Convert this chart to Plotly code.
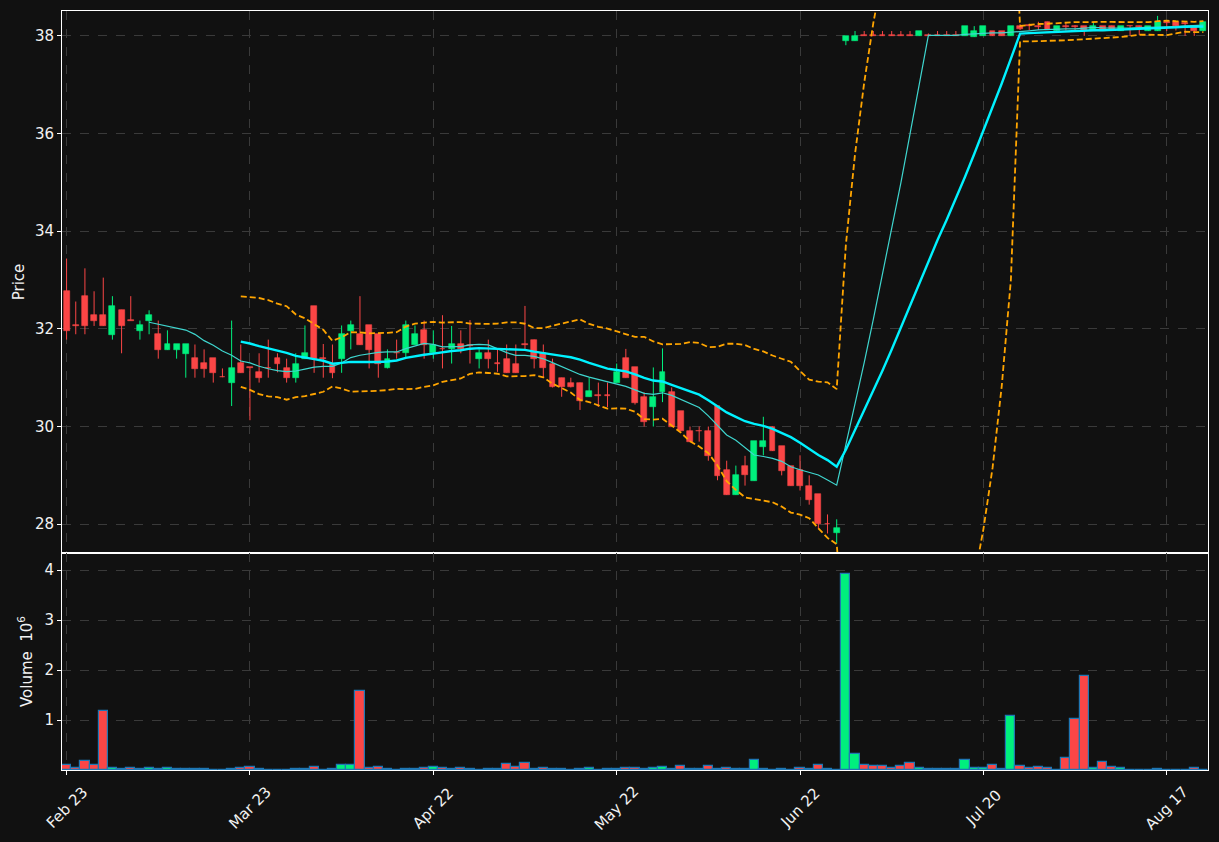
import numpy as np
import pandas as pd
import plotly.graph_objects as go

# ---------------- data ----------------
tick_positions = [0, 20, 40, 60, 80, 100, 120]
tick_labels = ["Feb 23", "Mar 23", "Apr 22", "May 22", "Jun 22", "Jul 20", "Aug 17"]

opens = [
    32.77, 32.07, 32.67, 32.28, 32.28, 31.88, 32.39, 32.18, 31.96, 32.16,
    31.89, 31.57, 31.57, 31.49, 31.40, 31.30, 31.40, 31.02, 30.90, 31.30,
    31.21, 31.11, 31.20, 31.40, 31.19, 31.00, 31.39, 32.47, 31.40, 31.29,
    31.38, 31.96, 31.89, 32.08, 31.89, 31.19, 31.51, 31.50, 31.68, 31.97,
    31.50, 31.59, 31.58, 31.69, 31.66, 31.39, 31.50, 31.30, 31.39, 31.29,
    31.69, 31.78, 31.50, 31.29, 31.00, 30.90, 30.90, 30.61, 30.64, 30.64,
    30.90, 31.40, 31.22, 30.60, 30.40, 30.70, 30.70, 30.31, 29.90, 29.91,
    29.90, 30.42, 29.11, 28.60, 29.20, 28.89, 29.58, 30.00, 29.60, 29.19,
    29.11, 28.79, 28.61, 28.01, 27.81, 37.90, 37.90, 38.00, 38.00, 38.00,
    38.00, 38.00, 38.00, 38.00, 38.01, 38.00, 38.00, 38.00, 38.00, 37.98,
    38.00, 38.10, 38.10, 38.00, 38.20, 38.22, 38.21, 38.28, 38.10, 38.21,
    38.20, 38.20, 38.11, 38.20, 38.20, 38.11, 38.21, 38.20, 38.11, 38.11,
    38.29, 38.28, 38.26, 38.20, 38.11,
]
highs = [
    33.44, 32.56, 33.24, 32.77, 33.05, 32.67, 32.39, 32.67, 32.17, 32.38,
    32.17, 31.97, 31.69, 31.69, 31.68, 31.58, 31.40, 31.19, 32.17, 31.68,
    31.21, 31.50, 31.78, 31.50, 31.39, 31.50, 32.07, 32.47, 31.69, 31.68,
    32.07, 32.17, 32.67, 32.08, 31.89, 31.58, 31.78, 32.17, 32.07, 32.17,
    31.97, 32.28, 32.06, 31.97, 32.18, 31.58, 31.78, 31.58, 31.68, 31.68,
    32.47, 31.78, 31.68, 31.39, 31.00, 31.00, 30.90, 31.00, 30.90, 30.90,
    31.29, 31.59, 31.22, 30.70, 31.21, 31.60, 30.80, 30.31, 30.00, 30.00,
    30.00, 30.42, 29.30, 29.20, 29.40, 29.70, 30.20, 30.00, 29.60, 29.19,
    29.41, 29.00, 28.61, 28.20, 28.10, 38.00, 38.10, 38.10, 38.10, 38.10,
    38.10, 38.10, 38.10, 38.10, 38.05, 38.10, 38.10, 38.10, 38.20, 38.20,
    38.20, 38.10, 38.10, 38.20, 38.24, 38.25, 38.29, 38.29, 38.20, 38.26,
    38.22, 38.20, 38.29, 38.20, 38.21, 38.20, 38.21, 38.21, 38.20, 38.41,
    38.30, 38.29, 38.29, 38.21, 38.29,
]
lows = [
    31.78, 31.89, 31.89, 32.06, 32.06, 31.78, 31.50, 32.17, 31.78, 31.89,
    31.39, 31.57, 31.39, 31.00, 31.00, 31.00, 30.90, 31.01, 30.42, 31.10,
    30.13, 30.90, 31.00, 31.11, 30.90, 30.90, 31.39, 31.10, 31.00, 30.99,
    31.10, 31.58, 31.67, 31.19, 31.00, 31.19, 31.39, 31.39, 31.68, 31.39,
    31.39, 31.19, 31.29, 31.50, 31.29, 31.19, 31.19, 31.12, 31.10, 31.10,
    31.58, 31.19, 31.00, 30.80, 30.61, 30.80, 30.34, 30.61, 30.40, 30.40,
    30.90, 31.00, 30.45, 30.00, 30.00, 30.50, 30.00, 29.90, 29.69, 29.69,
    29.30, 28.90, 28.60, 28.60, 28.79, 28.89, 29.41, 29.50, 29.00, 28.79,
    28.69, 28.40, 27.90, 27.81, 27.60, 37.81, 37.90, 38.00, 38.00, 38.00,
    38.00, 38.00, 38.00, 38.00, 38.00, 38.00, 38.00, 38.00, 38.00, 37.98,
    38.00, 38.00, 38.00, 38.00, 38.12, 38.12, 38.12, 38.12, 38.10, 38.11,
    38.12, 38.00, 38.10, 38.10, 38.10, 38.10, 38.00, 38.02, 38.10, 38.10,
    38.10, 38.11, 38.00, 38.00, 38.10,
]
closes = [
    31.95, 32.06, 32.06, 32.17, 32.06, 32.47, 32.06, 32.17, 32.08, 32.28,
    31.57, 31.69, 31.69, 31.69, 31.18, 31.18, 31.10, 31.01, 31.20, 31.10,
    31.20, 30.99, 31.19, 31.29, 31.00, 31.29, 31.50, 31.39, 31.39, 31.10,
    31.89, 32.08, 31.67, 31.57, 31.29, 31.39, 31.50, 32.08, 31.89, 31.68,
    31.68, 31.58, 31.69, 31.58, 31.65, 31.50, 31.39, 31.29, 31.10, 31.10,
    31.68, 31.39, 31.19, 30.80, 30.80, 30.80, 30.52, 30.73, 30.63, 30.63,
    31.11, 31.00, 30.49, 30.09, 30.60, 31.11, 30.00, 29.90, 29.69, 29.90,
    29.40, 28.98, 28.60, 29.00, 29.00, 29.70, 29.70, 29.50, 29.09, 28.79,
    28.79, 28.50, 28.00, 28.00, 27.92, 38.00, 38.00, 38.00, 38.00, 38.00,
    38.00, 38.00, 38.00, 38.10, 38.00, 38.00, 38.00, 38.00, 38.20, 38.10,
    38.20, 38.00, 38.00, 38.20, 38.15, 38.20, 38.19, 38.12, 38.20, 38.19,
    38.18, 38.10, 38.20, 38.11, 38.12, 38.20, 38.20, 38.18, 38.20, 38.29,
    38.27, 38.20, 38.25, 38.11, 38.29,
]
volumes = [
    93000, 47000, 190000, 93000, 1190000, 33000, 13000, 33000, 13000, 33000,
    13000, 33000, 13000, 13000, 13000, 13000, 5000, 5000, 13000, 33000,
    53000, 13000, 5000, 5000, 5000, 13000, 13000, 53000, 5000, 13000,
    93000, 93000, 1573000, 33000, 53000, 13000, 5000, 13000, 13000, 33000,
    53000, 33000, 13000, 33000, 13000, 5000, 13000, 13000, 120000, 53000,
    140000, 13000, 33000, 13000, 13000, 5000, 13000, 33000, 5000, 13000,
    13000, 33000, 33000, 13000, 33000, 53000, 13000, 73000, 13000, 13000,
    73000, 13000, 33000, 13000, 13000, 193000, 13000, 5000, 13000, 5000,
    33000, 13000, 93000, 13000, 10000, 3930000, 313000, 93000, 73000, 73000,
    33000, 73000, 133000, 33000, 13000, 13000, 13000, 13000, 193000, 33000,
    33000, 93000, 13000, 1073000, 73000, 33000, 53000, 33000, 5000, 233000,
    1013000, 1873000, 33000, 153000, 53000, 33000, 3000, 3000, 3000, 13000,
    3000, 3000, 3000, 33000, 3000,
]

# ---------------- styling ----------------
BG = "#111111"
UP = "#00ef7d"
DOWN = "#fb4646"
GRID = "#3a3a3a"
TXT = "#f2f2f2"
FS = 15

n = len(closes)
x = np.arange(n)
o = np.array(opens)
h = np.array(highs)
l = np.array(lows)
c = np.array(closes)
v = np.array(volumes) / 1e6
up = c > o

s = pd.Series(c)
ma10 = s.rolling(10).mean()
ma20 = s.rolling(20).mean()
sd20 = s.rolling(20).std()
bb_up = ma20 + 2 * sd20
bb_lo = ma20 - 2 * sd20

fig = go.Figure()

# wicks
for mask, col in ((up, UP), (~up, DOWN)):
    wx, wy = [], []
    for i in x[mask]:
        wx += [i, i, None]
        wy += [l[i], h[i], None]
    fig.add_trace(go.Scatter(x=wx, y=wy, mode="lines", line=dict(color=col, width=1),
                             hoverinfo="skip", showlegend=False, xaxis="x", yaxis="y"))

# bodies
for mask, col in ((up, UP), (~up, DOWN)):
    idx = x[mask]
    base = np.minimum(o[idx], c[idx])
    height = np.maximum(np.abs(c[idx] - o[idx]), 0.012)
    fig.add_trace(go.Bar(x=idx, y=height, base=base, width=0.64,
                         marker=dict(color=col, line=dict(color=col, width=0.6)),
                         showlegend=False, xaxis="x", yaxis="y"))

# moving averages and bands
fig.add_trace(go.Scatter(x=x, y=ma10, mode="lines", line=dict(color="#3fd6cf", width=1.2),
                         showlegend=False, xaxis="x", yaxis="y"))
fig.add_trace(go.Scatter(x=x, y=ma20, mode="lines", line=dict(color="#00f2ff", width=2.4),
                         showlegend=False, xaxis="x", yaxis="y"))
for band in (bb_up, bb_lo):
    fig.add_trace(go.Scatter(x=x, y=band, mode="lines",
                             line=dict(color="#ffa500", width=1.8, dash="6px,3px"),
                             showlegend=False, xaxis="x", yaxis="y"))

# volume
fig.add_trace(go.Bar(x=x, y=v, width=1.0,
                     marker=dict(color=[UP if u else DOWN for u in up],
                                 line=dict(color="#1f77b4", width=1.2)),
                     showlegend=False, xaxis="x2", yaxis="y2"))

# x tick labels, centred under the ticks and rotated 45 degrees
for pos, lab in zip(tick_positions, tick_labels):
    fig.add_annotation(x=pos, xref="x2", y=-0.05, yref="paper", text=lab,
                       textangle=-45, showarrow=False, xanchor="center", yanchor="middle",
                       font=dict(size=FS, color=TXT))

split = (770 - 553) / (770 - 11)
axis_common = dict(showline=True, mirror=True, linecolor="#ffffff", linewidth=1,
                   gridcolor=GRID, griddash="dash", gridwidth=1, zeroline=False,
                   tickfont=dict(color=TXT, size=FS), ticks="outside", ticklen=4,
                   tickcolor="#ffffff", automargin=False)

fig.update_layout(
    width=1219, height=842,
    margin=dict(l=62, r=11, t=11, b=72, autoexpand=False),
    paper_bgcolor=BG, plot_bgcolor=BG,
    font=dict(family="DejaVu Sans", size=FS, color=TXT),
    barmode="overlay", bargap=0,
    showlegend=False,
    xaxis=dict(domain=[0, 1], anchor="y", range=[-0.5, 124.5], tickvals=tick_positions,
               showticklabels=False, showgrid=True, matches="x2", **axis_common),
    xaxis2=dict(domain=[0, 1], anchor="y2", range=[-0.5, 124.5], tickvals=tick_positions,
                showticklabels=False, showgrid=True, **axis_common),
    yaxis=dict(domain=[split, 1], anchor="x", range=[27.41, 38.51],
               tickvals=[28, 30, 32, 34, 36, 38], showgrid=True,
               title=dict(text="Price", font=dict(size=FS, color=TXT), standoff=6),
               **axis_common),
    yaxis2=dict(domain=[0, split], anchor="x2", range=[0, 4.34],
                tickvals=[1, 2, 3, 4], showgrid=True,
                title=dict(text="Volume  10<sup>6</sup>", font=dict(size=FS, color=TXT), standoff=8),
                **axis_common),
)

fig.write_html(
    "out.html",
    config={"displayModeBar": False},
    post_script="document.body.style.margin='0';document.body.style.background='#111111';",
)
